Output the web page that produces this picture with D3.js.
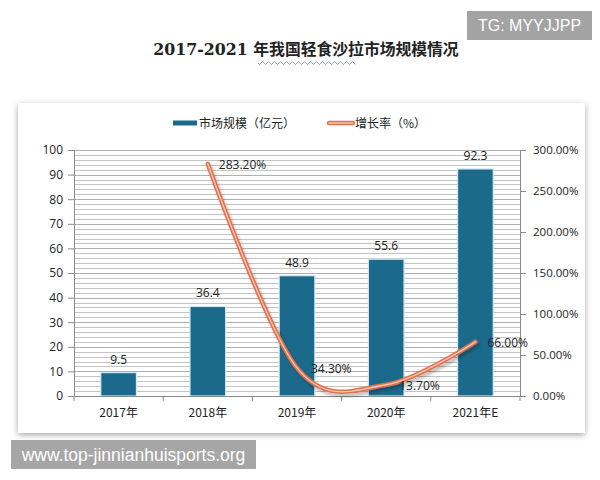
<!DOCTYPE html>
<html><head><meta charset="utf-8">
<script src="https://cdn.jsdelivr.net/npm/d3@7/dist/d3.min.js"></script>
<style>html,body{margin:0;padding:0;background:#fff;}svg{display:block;}</style>
</head><body>
<svg id="c" width="600" height="480"></svg>
<script>
const categories = ["2017年","2018年","2019年","2020年","2021年E"];
const marketSize = [9.5, 36.4, 48.9, 55.6, 92.3];
const growthRate = [null, 283.2, 34.3, 13.7, 66.0];
const leftTicks = [0,10,20,30,40,50,60,70,80,90,100];
const rightTicks = [0,50,100,150,200,250,300];
const title = "2017-2021 年我国轻食沙拉市场规模情况";
const seriesNames = ["市场规模（亿元）","增长率（%）"];

const svg = d3.select("#c");
const defs = svg.append("defs");
const sh = defs.append("filter").attr("id","cardShadow").attr("x","-5%").attr("y","-5%").attr("width","110%").attr("height","115%");
sh.append("feGaussianBlur").attr("in","SourceAlpha").attr("stdDeviation",3);
sh.append("feOffset").attr("dx",0).attr("dy",2).attr("result","b");
sh.append("feComponentTransfer").append("feFuncA").attr("type","linear").attr("slope",0.35);
const m = sh.append("feMerge"); m.append("feMergeNode"); m.append("feMergeNode").attr("in","SourceGraphic");
const ls = defs.append("filter").attr("id","lineShadow").attr("x","-10%").attr("y","-10%").attr("width","120%").attr("height","120%");
ls.append("feGaussianBlur").attr("in","SourceAlpha").attr("stdDeviation",1.5);
ls.append("feOffset").attr("dx",2).attr("dy",3).attr("result","b");
ls.append("feComponentTransfer").append("feFuncA").attr("type","linear").attr("slope",0.25);
const m2 = ls.append("feMerge"); m2.append("feMergeNode"); m2.append("feMergeNode").attr("in","SourceGraphic");

// Title
svg.append("text").attr("x",306).attr("y",55).attr("text-anchor","middle")
  .attr("font-family","'DejaVu Serif','Liberation Serif','Noto Sans CJK SC',serif")
  .attr("font-weight","bold").attr("font-size",15.8).attr("fill","#222").text(title);
// spellcheck squiggle
{
  let d = "M258,63";
  for (let x=258; x<357; x+=3) d += ` L${x+1.5},${x%6===0?64.5:61.5}`;
  svg.append("path").attr("d",d).attr("fill","none").attr("stroke","#5b7fd0").attr("stroke-width",0.7);
}

// Watermarks
svg.append("rect").attr("x",467).attr("y",11).attr("width",125).attr("height",29).attr("fill","#a3a3a3");
svg.append("text").attr("x",529.5).attr("y",31).attr("text-anchor","middle").attr("font-family","'Liberation Sans',Arial,sans-serif").attr("font-size",16).attr("fill","#fff").text("TG: MYYJJPP");

// Card
svg.append("rect").attr("x",18).attr("y",103).attr("width",567).attr("height",330).attr("fill","#fff").attr("filter","url(#cardShadow)");

const x0 = 74, x1 = 520, yTop = 150, yBot = 396;
const x = d3.scaleBand().domain(categories).range([x0,x1]).paddingInner(0.6).paddingOuter(0.3);
const xb = d3.scaleBand().domain(categories).range([x0,x1]);
const yL = d3.scaleLinear().domain([0,100]).range([yBot,yTop]);
const yR = d3.scaleLinear().domain([0,300]).range([yBot,yTop]);

// gridlines every 2
const grid = svg.append("g");
grid.selectAll("line").data(d3.range(2,101,2)).join("line")
  .attr("x1",x0).attr("x2",x1).attr("y1",d=>Math.round(yL(d))+0.5).attr("y2",d=>Math.round(yL(d))+0.5)
  .attr("stroke",(d)=> d%10===0 ? "#b0b0b0" : "#c4c4c4").attr("stroke-width",1);

// Bars
svg.append("g").selectAll("rect").data(marketSize).join("rect")
  .attr("x",(d,i)=>x(categories[i])).attr("width",x.bandwidth())
  .attr("y",d=>yL(d)).attr("height",d=>yBot-yL(d))
  .attr("fill","#1c6a8b").attr("stroke","#cfe9f2").attr("stroke-width",1.2);

// Axes
const fontAx = "'Open Sans','Noto Sans','DejaVu Sans',sans-serif";
const gl = svg.append("g").attr("transform",`translate(${x0},0)`).call(d3.axisLeft(yL).tickValues(leftTicks).tickSize(6).tickPadding(5));
const gr = svg.append("g").attr("transform",`translate(${x1},0)`).call(d3.axisRight(yR).tickValues(rightTicks).tickSize(6).tickPadding(7).tickFormat(d=>d3.format(".2f")(d)+"%"));
const gb = svg.append("g").attr("transform",`translate(0,${yBot})`).call(d3.axisBottom(xb).tickSize(0).tickPadding(12));
gb.append("g").selectAll("line").data(d3.range(0,6)).join("line")
  .attr("x1",i=>x0+i*xb.step()).attr("x2",i=>x0+i*xb.step()).attr("y1",0).attr("y2",5).attr("stroke","#888");
[gl,gr,gb].forEach(g=>{
  g.selectAll(".domain").attr("stroke","#8a8a8a");
  g.selectAll(".tick line").attr("stroke","#8a8a8a");
  g.selectAll("text").attr("font-family",fontAx).attr("font-size",12).attr("fill","#222");
});
gr.selectAll("text").attr("font-size",11.5);
gb.selectAll("text").attr("font-family","'Noto Sans CJK SC','Open Sans',sans-serif").attr("font-size",12);

// Bar labels
svg.append("g").selectAll("text").data(marketSize).join("text")
  .attr("x",(d,i)=>x(categories[i])+x.bandwidth()/2).attr("y",d=>yL(d)-9)
  .attr("text-anchor","middle").attr("font-family",fontAx).attr("font-size",12).attr("fill","#222")
  .text(d=>d3.format(".1f")(d));

// Growth line
const pts = growthRate.map((v,i)=>({v,c:categories[i]})).filter(p=>p.v!==null);
const line = d3.line().x(p=>xb(p.c)+xb.bandwidth()/2).y(p=>yR(p.v)).curve(d3.curveCardinal.tension(0));
const lg = svg.append("g").attr("filter","url(#lineShadow)");
lg.append("path").attr("d",line(pts)).attr("fill","none").attr("stroke","#e2704e").attr("stroke-width",4.5).attr("stroke-linecap","round");
lg.append("path").attr("d",line(pts)).attr("fill","none").attr("stroke","#f7c4ad").attr("stroke-width",1.4).attr("stroke-linecap","round");

// Growth labels
const offs = [[11,5],[14,5],[13,5],[12,5]];
svg.append("g").selectAll("text").data(pts).join("text")
  .attr("x",(p,i)=>xb(p.c)+xb.bandwidth()/2+offs[i][0]).attr("y",(p,i)=>yR(p.v)+offs[i][1])
  .attr("font-family",fontAx).attr("font-size",12).attr("fill","#222")
  .text(p=>d3.format(".2f")(p.v)+"%");

// Legend
const leg = svg.append("g");
leg.append("rect").attr("x",173).attr("y",120.5).attr("width",24).attr("height",5).attr("fill","#1c6a8b");
leg.append("text").attr("x",199).attr("y",128).attr("font-family","'Noto Sans CJK SC',sans-serif").attr("font-size",12).attr("fill","#222").text(seriesNames[0]);
leg.append("line").attr("x1",329).attr("x2",353).attr("y1",123).attr("y2",123).attr("stroke","#e2704e").attr("stroke-width",4.5).attr("stroke-linecap","round");
leg.append("line").attr("x1",329).attr("x2",353).attr("y1",123).attr("y2",123).attr("stroke","#f7c4ad").attr("stroke-width",1.4).attr("stroke-linecap","round");
leg.append("text").attr("x",355).attr("y",128).attr("font-family","'Noto Sans CJK SC',sans-serif").attr("font-size",12).attr("fill","#222").text(seriesNames[1]);

// bottom watermark
svg.append("rect").attr("x",11).attr("y",440).attr("width",245).attr("height",29).attr("fill","#a6a6a6");
svg.append("text").attr("x",133.5).attr("y",461).attr("text-anchor","middle").attr("font-family","'Liberation Sans',Arial,sans-serif").attr("font-size",17.5).attr("fill","#fff").text("www.top-jinnianhuisports.org");
</script>
</body></html>
